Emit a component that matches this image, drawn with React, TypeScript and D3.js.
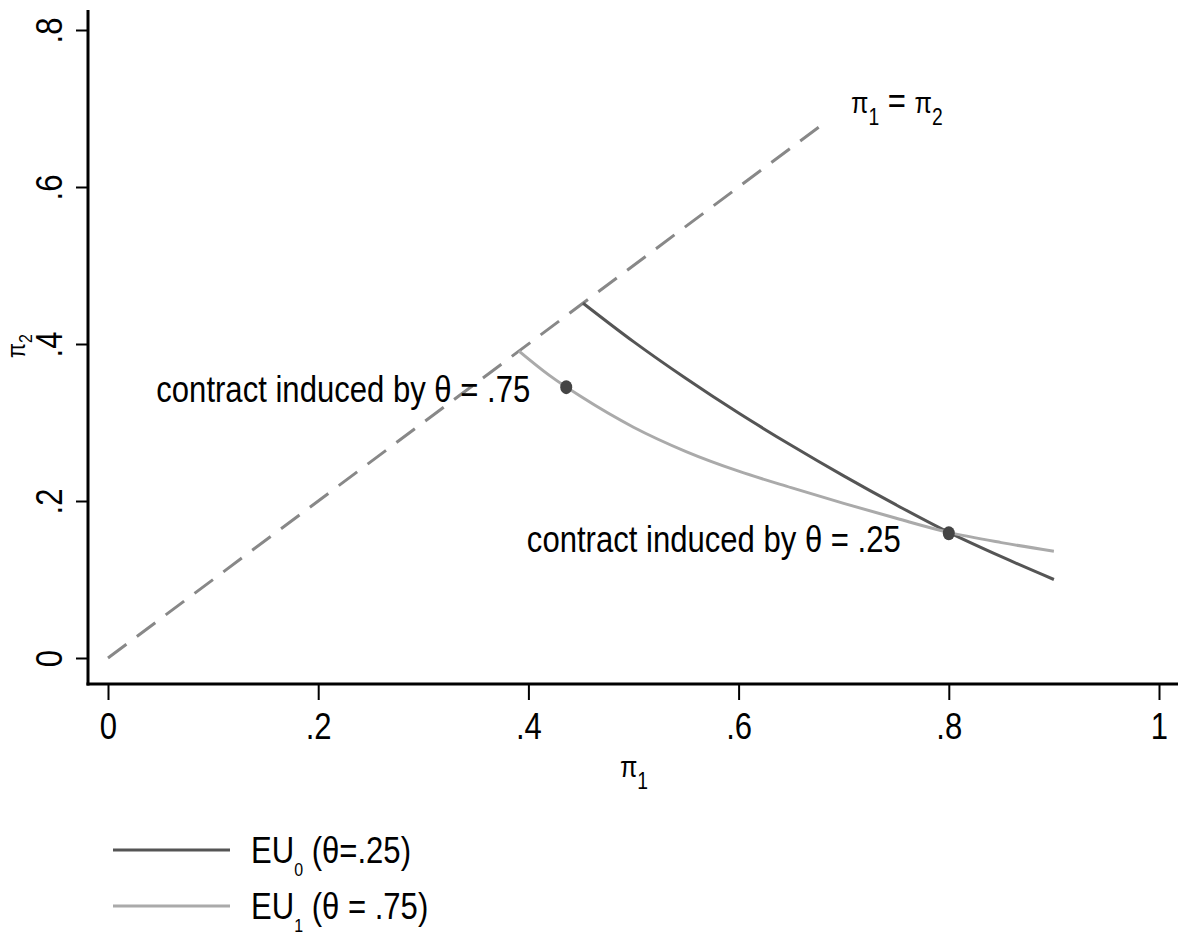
import React, { useEffect, useRef } from 'react';
import * as d3 from 'd3';

// line pi1 = pi2 (dashed)
const diagX = [0, 0.68];
const diagY = [0, 0.68];

// EU0 (theta = .25)
const eu0X = [0.452, 0.5, 0.55, 0.6, 0.65, 0.7, 0.75, 0.8, 0.85, 0.9];
const eu0Y = [0.452, 0.403, 0.356, 0.312, 0.271, 0.232, 0.195, 0.16, 0.129, 0.1];

// EU1 (theta = .75)
const eu1X = [0.391, 0.42, 0.45, 0.5, 0.55, 0.6, 0.65, 0.7, 0.75, 0.8, 0.85, 0.9];
const eu1Y = [0.391, 0.36, 0.333, 0.294, 0.263, 0.238, 0.217, 0.197, 0.178, 0.16, 0.147, 0.136];

// contracts
const contractX = [0.436, 0.8];
const contractY = [0.345, 0.159];
const contractLabels = ['contract induced by θ = .75', 'contract induced by θ = .25'];

const xTicks = [0, 0.2, 0.4, 0.6, 0.8, 1];
const xTickLabels = ['0', '.2', '.4', '.6', '.8', '1'];
const yTicks = [0, 0.2, 0.4, 0.6, 0.8];
const yTickLabels = ['0', '.2', '.4', '.6', '.8'];

const FONT = "'Liberation Sans', Arial, sans-serif";
const SX = 0.84; // narrow look of the original font

const App = () => {
  const ref = useRef(null);

  useEffect(() => {
    const width = 1178;
    const height = 937;
    const fs = 37;
    const subFs = 23;
    const piFs = 30;

    const root = d3.select(ref.current);
    root.selectAll('*').remove();
    const svg = root
      .append('svg')
      .attr('width', width)
      .attr('height', height)
      .style('position', 'absolute')
      .style('left', 0)
      .style('top', 0)
      .style('font-family', FONT);

    svg.append('rect').attr('width', width).attr('height', height).attr('fill', '#fff');

    const x = d3.scaleLinear().domain([0, 1]).range([108, 1159]);
    const y = d3.scaleLinear().domain([0, 0.8]).range([658, 30]);
    const axisX = 88;
    const axisY = 684;

    // text placed at (tx,ty), squeezed horizontally
    const label = (tx, ty, rot = 0, anchor = 'start', size = fs) =>
      svg
        .append('text')
        .attr('transform', `translate(${tx},${ty}) rotate(${rot}) scale(${SX},1)`)
        .attr('text-anchor', anchor)
        .attr('fill', '#000')
        .style('font-size', `${size}px`);

    // x axis
    const gx = svg
      .append('g')
      .attr('transform', `translate(0,${axisY})`)
      .call(
        d3
          .axisBottom(x)
          .tickValues(xTicks)
          .tickSize(16)
          .tickSizeOuter(0)
          .tickFormat((d, i) => xTickLabels[i])
      );
    gx.select('.domain').remove();
    gx.selectAll('line').attr('stroke', '#000').attr('stroke-width', 2);
    gx.selectAll('text')
      .attr('transform', `translate(0,55) scale(${SX},1)`)
      .attr('y', 0)
      .attr('dy', null)
      .attr('fill', '#000')
      .style('font-size', `${fs}px`)
      .style('font-family', FONT);

    // y axis
    const gy = svg
      .append('g')
      .attr('transform', `translate(${axisX},0)`)
      .call(
        d3
          .axisLeft(y)
          .tickValues(yTicks)
          .tickSize(12)
          .tickSizeOuter(0)
          .tickFormat((d, i) => yTickLabels[i])
      );
    gy.select('.domain').remove();
    gy.selectAll('line').attr('stroke', '#000').attr('stroke-width', 2);
    gy.selectAll('text')
      .attr('transform', `rotate(-90) translate(0,-26) scale(${SX},1)`)
      .attr('x', 0)
      .attr('y', 0)
      .attr('dy', null)
      .attr('text-anchor', 'middle')
      .attr('fill', '#000')
      .style('font-size', `${fs}px`)
      .style('font-family', FONT);

    // axis lines
    svg.append('line')
      .attr('x1', axisX).attr('x2', axisX)
      .attr('y1', 10).attr('y2', axisY + 1.5)
      .attr('stroke', '#000').attr('stroke-width', 3);
    svg.append('line')
      .attr('x1', axisX - 1.5).attr('x2', width)
      .attr('y1', axisY).attr('y2', axisY)
      .attr('stroke', '#000').attr('stroke-width', 3);

    // axis titles
    const tx = label(634, 777, 0, 'middle', piFs);
    tx.append('tspan').text('π');
    tx.append('tspan').attr('dy', 12).style('font-size', `${subFs}px`).text('1');

    const ty = label(25, 346, -90, 'middle', 26);
    ty.append('tspan').text('π');
    ty.append('tspan').attr('dy', 7).style('font-size', '19px').text('2');

    const line = d3.line().x((d) => x(d[0])).y((d) => y(d[1]));
    const curve = d3.line().x((d) => x(d[0])).y((d) => y(d[1])).curve(d3.curveMonotoneX);

    // dashed 45 degree line
    svg.append('path')
      .datum(diagX.map((v, i) => [v, diagY[i]]))
      .attr('d', line)
      .attr('fill', 'none')
      .attr('stroke', '#888')
      .attr('stroke-width', 3)
      .attr('stroke-dasharray', '23,13');

    // curves
    svg.append('path')
      .datum(eu0X.map((v, i) => [v, eu0Y[i]]))
      .attr('d', curve)
      .attr('fill', 'none')
      .attr('stroke', '#555')
      .attr('stroke-width', 3);
    svg.append('path')
      .datum(eu1X.map((v, i) => [v, eu1Y[i]]))
      .attr('d', curve)
      .attr('fill', 'none')
      .attr('stroke', '#aaa')
      .attr('stroke-width', 3);

    // contract points + labels
    const labelShift = [
      [-36, 15],
      [-48, 19],
    ];
    contractX.forEach((cx, i) => {
      svg.append('ellipse')
        .attr('cx', x(cx)).attr('cy', y(contractY[i]))
        .attr('rx', 6).attr('ry', 7)
        .attr('fill', '#444');
      label(x(cx) + labelShift[i][0], y(contractY[i]) + labelShift[i][1], 0, 'end').text(contractLabels[i]);
    });

    // pi1 = pi2 label
    const dl = label(851, 113);
    dl.append('tspan').style('font-size', `${piFs}px`).text('π');
    dl.append('tspan').attr('dy', 12).style('font-size', `${subFs}px`).text('1');
    dl.append('tspan').attr('dy', -12).text(' = ');
    dl.append('tspan').style('font-size', `${piFs}px`).text('π');
    dl.append('tspan').attr('dy', 12).style('font-size', `${subFs}px`).text('2');

    // legend
    const legend = [
      { color: '#555', name: 'EU', sub: '0', rest: ' (θ=.25)', yy: 850 },
      { color: '#aaa', name: 'EU', sub: '1', rest: ' (θ = .75)', yy: 906 },
    ];
    legend.forEach((l) => {
      svg.append('line')
        .attr('x1', 113).attr('x2', 230)
        .attr('y1', l.yy).attr('y2', l.yy)
        .attr('stroke', l.color).attr('stroke-width', 3);
      const t = label(251, l.yy + 13);
      t.append('tspan').text(l.name);
      t.append('tspan').attr('dy', 13).style('font-size', '19px').text(l.sub);
      t.append('tspan').attr('dy', -13).text(l.rest);
    });

    return () => {
      d3.select(ref.current).selectAll('*').remove();
    };
  }, []);

  return <div ref={ref}></div>;
};

export default App;
